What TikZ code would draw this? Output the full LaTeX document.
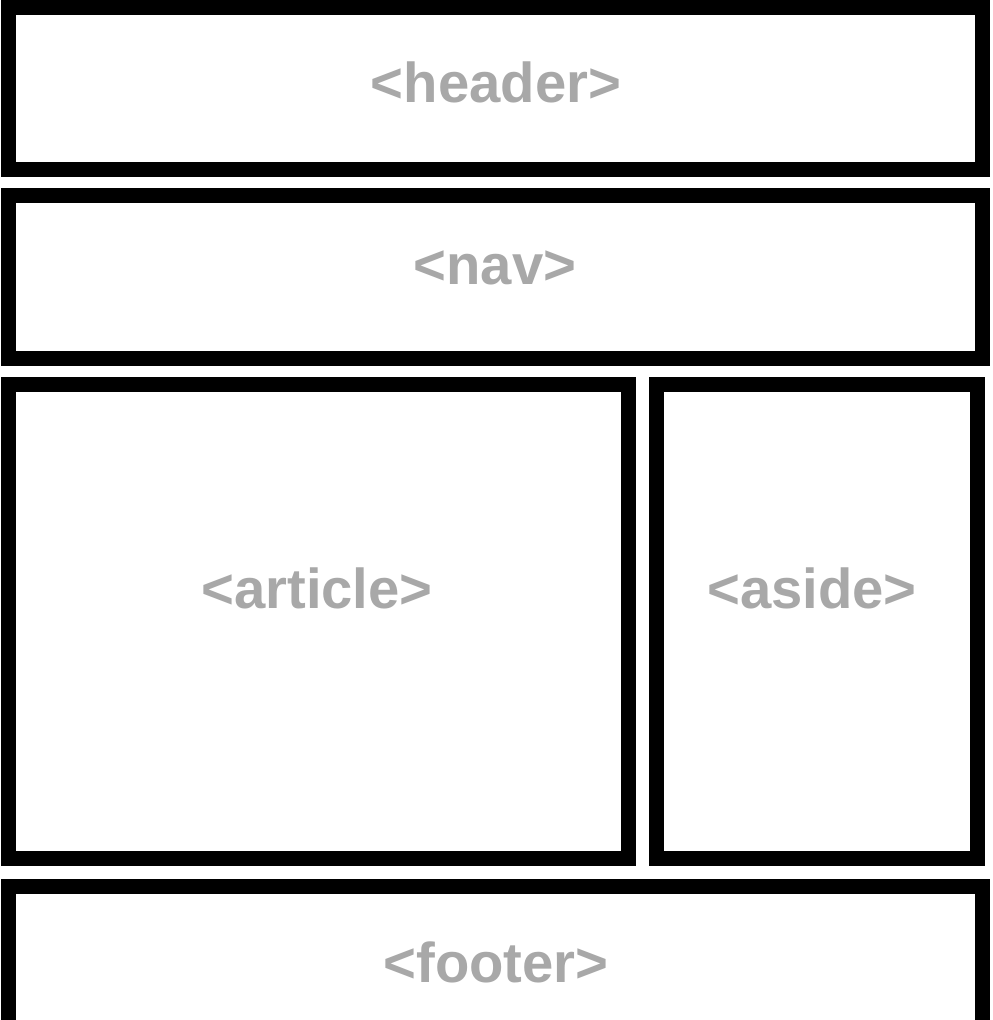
\documentclass[tikz,border=0pt]{standalone}
\usepackage{fontspec}
\setmainfont{Liberation Sans}
\usepackage{tikz}
\usepackage{xcolor}
\definecolor{taggray}{RGB}{168,168,168}

\begin{document}
\begin{tikzpicture}[x=0.02cm, y=-0.02cm,
    box/.style={draw=black, line width=0.3cm, fill=white, inner sep=0pt},
    tag/.style={anchor=base, text=taggray, font=\bfseries\fontsize{32}{36}\selectfont}]
  \useasboundingbox (0,0) rectangle (992,1020);
  \clip (0,0) rectangle (992,1020);
  % page blocks
  \node[box, minimum width=19.48cm, minimum height=3.24cm] (header)  at (495.5,88.5)  {};
  \node[box, minimum width=19.48cm, minimum height=3.26cm] (nav)     at (495.5,277)   {};
  \node[box, minimum width=12.40cm, minimum height=9.48cm] (article) at (318.5,621.5) {};
  \node[box, minimum width=6.42cm,  minimum height=9.48cm] (aside)   at (817,621.5)   {};
  \node[box, minimum width=19.48cm, minimum height=3.24cm] (footer)  at (495.5,967.5) {};
  % tag names
  \node[tag] (headertag)  at (496,103) {<header>};
  \node[tag] (navtag)     at (495,285) {<nav>};
  \node[tag] (articletag) at (317,608) {<article>};
  \node[tag] (asidetag)   at (812,608) {<aside>};
  \node[tag] (footertag)  at (496,982) {<footer>};
\end{tikzpicture}
\end{document}
